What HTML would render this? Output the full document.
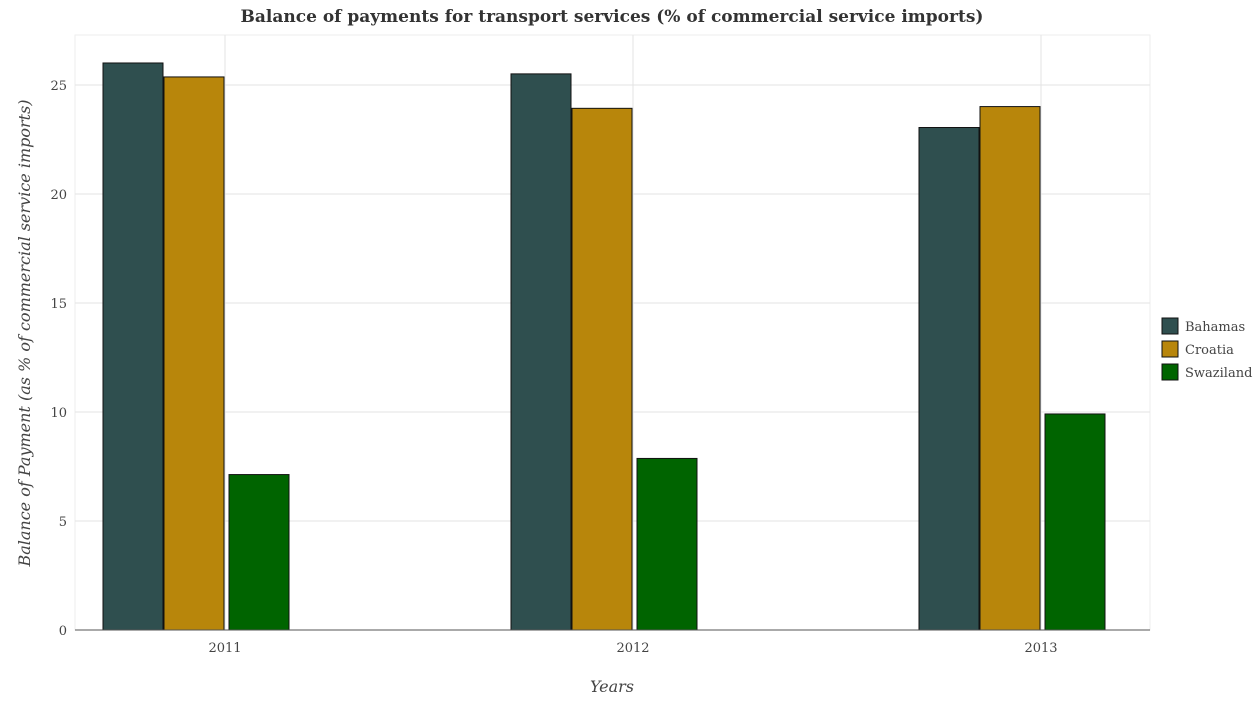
<!DOCTYPE html>
<html><head><meta charset="utf-8"><style>
body{margin:0;background:#fff;}
svg{font-family:"DejaVu Serif","Liberation Serif",serif;}
</style></head><body>
<svg id="chart" width="1257" height="700" xmlns="http://www.w3.org/2000/svg">
<text x="612" y="22" text-anchor="middle" font-size="17" font-weight="bold" fill="#333">Balance of payments for transport services (% of commercial service imports)</text>
<g id="grid"></g>
<g id="bars"></g>
<g id="axes"></g>
<text x="612" y="692" text-anchor="middle" font-size="16" font-style="italic" fill="#444">Years</text>
<text transform="translate(30,333) rotate(-90)" text-anchor="middle" font-size="16" font-style="italic" fill="#444">Balance of Payment (as % of commercial service imports)</text>
<g id="legend"></g>
</svg>
<script>
const categories=["2011","2012","2013"];
const seriesNames=["Bahamas","Croatia","Swaziland"];
const bahamas=[26.01,25.51,23.05];
const croatia=[25.37,23.93,24.01];
const swaziland=[7.13,7.87,9.91];
const yTicks=[0,5,10,15,20,25];
const colors=["#2f4f4f","#b8860b","#006400"];
const NS="http://www.w3.org/2000/svg";
const L=75,R=1150,T=35,B=630;
const y=v=>B-v*21.8;
const xc=i=>225+i*408;
function mk(tag,attrs,parent){const e=document.createElementNS(NS,tag);for(const k in attrs)e.setAttribute(k,attrs[k]);document.getElementById(parent).appendChild(e);return e;}
mk("rect",{x:L,y:T,width:R-L,height:B-T,fill:"none",stroke:"#eee"},"grid");
yTicks.forEach(t=>{
 const g=mk("line",{x1:L,x2:R,y1:y(t),y2:y(t),stroke:"#e3e3e3"},"grid");
 
 
 const tx=mk("text",{x:L-8,y:y(t)+5,"text-anchor":"end","font-size":"13",fill:"#444"},"axes");
 tx.textContent=t;
 
 
});
categories.forEach((c,i)=>{
 const g=mk("line",{x1:xc(i),x2:xc(i),y1:T,y2:B,stroke:"#e3e3e3"},"grid");
 
 
 const tx=mk("text",{x:xc(i),y:B+22,"text-anchor":"middle","font-size":"13",fill:"#444"},"axes");
 tx.textContent=c;
 
 
});
const data=[bahamas,croatia,swaziland];
const offs=[-122,-61,4];
data.forEach((s,si)=>{s.forEach((v,i)=>{
 const r=mk("rect",{x:xc(i)+offs[si],y:y(v),width:60,height:B-y(v),fill:colors[si],stroke:"#111","stroke-width":"1"},"bars");
 
 
});});
mk("line",{x1:L,x2:R,y1:B,y2:B,stroke:"#555"},"axes");
seriesNames.forEach((n,i)=>{
 const cy=326+i*23;
 const r=mk("rect",{x:1162,y:cy-8,width:16,height:16,fill:colors[i],stroke:"#111"},"legend");
 
 
 const t=mk("text",{x:1185,y:cy+5,"font-size":"13",fill:"#444"},"legend");
 t.textContent=n;
 
 
});
</script>
</body></html>
